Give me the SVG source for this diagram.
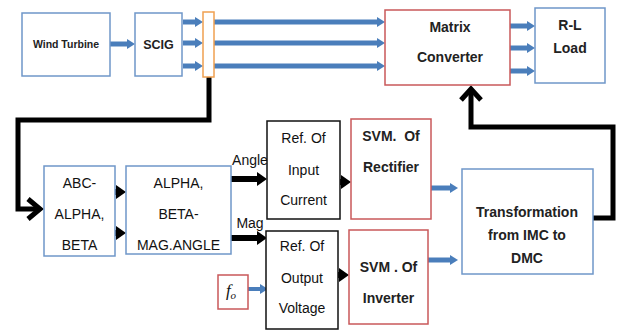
<svg xmlns="http://www.w3.org/2000/svg" width="619" height="332" viewBox="0 0 619 332">
<defs>
<style>
.bb{fill:#fff;stroke:#6f97c9;stroke-width:1.5}
.rb{fill:#fff;stroke:#c9585a;stroke-width:1.5}
.kb{fill:#fff;stroke:#111;stroke-width:1.5}
.ob{fill:#fff;stroke:#f0a050;stroke-width:1.5}
.tb{font-family:"Liberation Sans",Arial,sans-serif;font-weight:bold;fill:#222;text-anchor:middle;white-space:pre}
.tr{font-family:"Liberation Sans",Arial,sans-serif;font-size:14px;fill:#111;text-anchor:middle}
.blu{stroke:#4a7ebb;stroke-width:5;fill:none}
.blk{stroke:#000;stroke-width:6;fill:none}
.fb{stroke:#000;stroke-width:5;fill:none;stroke-linejoin:miter}
</style>
<marker id="ab" markerUnits="userSpaceOnUse" markerWidth="10" markerHeight="12" refX="1" refY="6" orient="auto"><path d="M0,1 L8,6 L0,11 z" fill="#4a7ebb"/></marker>
<marker id="ak" markerUnits="userSpaceOnUse" markerWidth="12" markerHeight="16" refX="1" refY="8" orient="auto"><path d="M0,1 L10,8 L0,15 z" fill="#000"/></marker>
</defs>
<rect width="619" height="332" fill="#fff"/>

<g id="connectors">
<line class="blu" x1="110" y1="44" x2="128" y2="44" marker-end="url(#ab)"/>
<line class="blu" x1="183" y1="22" x2="196" y2="22" marker-end="url(#ab)"/>
<line class="blu" x1="183" y1="43" x2="196" y2="43" marker-end="url(#ab)"/>
<line class="blu" x1="183" y1="66" x2="196" y2="66" marker-end="url(#ab)"/>
<line class="blu" x1="214" y1="22" x2="378" y2="22" marker-end="url(#ab)"/>
<line class="blu" x1="214" y1="43" x2="378" y2="43" marker-end="url(#ab)"/>
<line class="blu" x1="214" y1="66" x2="378" y2="66" marker-end="url(#ab)"/>
<line class="blu" x1="510" y1="26" x2="528" y2="26" marker-end="url(#ab)"/>
<line class="blu" x1="510" y1="48" x2="528" y2="48" marker-end="url(#ab)"/>
<line class="blu" x1="510" y1="71" x2="528" y2="71" marker-end="url(#ab)"/>
<polyline class="fb" points="209,77 209,120 18,120 18,209 40,209"/>
<polyline class="fb" points="28,199 40,209 28,219"/>
<line class="blk" x1="115" y1="192" x2="117" y2="192" marker-end="url(#ak)"/>
<line class="blk" x1="115" y1="233" x2="117" y2="233" marker-end="url(#ak)"/>
<line class="blk" x1="231" y1="179" x2="258" y2="179" marker-end="url(#ak)"/>
<line class="blk" x1="231" y1="238" x2="258" y2="238" marker-end="url(#ak)"/>
<line class="blk" x1="340" y1="182" x2="342" y2="182" marker-end="url(#ak)"/>
<line class="blk" x1="338" y1="275" x2="340" y2="275" marker-end="url(#ak)"/>
<line stroke="#4a7ebb" stroke-width="4" x1="248" y1="289" x2="261" y2="289" marker-end="url(#ab)"/>
<line class="blu" x1="431" y1="188" x2="451" y2="188" marker-end="url(#ab)"/>
<line class="blu" x1="428" y1="260" x2="451" y2="260" marker-end="url(#ab)"/>
<polyline class="fb" points="593,218 613,218 613,127 471,127 471,89"/>
<polyline class="fb" points="461,100 471,89 481,100"/>
</g>

<g id="wind-turbine"><rect class="bb" x="22" y="13" width="88" height="63"/><text class="tb" x="66" y="48" font-size="10.5">Wind Turbine</text></g>
<g id="scig"><rect class="bb" x="135" y="13" width="47" height="63"/><text class="tb" x="158.5" y="49" font-size="12.5">SCIG</text></g>
<g id="bus"><rect class="ob" x="203" y="12" width="11" height="65"/></g>
<g id="matrix-converter"><rect class="rb" x="385" y="10" width="125" height="75"/><text class="tb" x="450" y="32" font-size="14">Matrix</text><text class="tb" x="450" y="62" font-size="14">Converter</text></g>
<g id="rl-load"><rect class="bb" x="535" y="8" width="70" height="75"/><text class="tb" x="570" y="30" font-size="14">R-L</text><text class="tb" x="570" y="53" font-size="14">Load</text></g>
<g id="abc"><rect class="bb" x="44" y="166" width="71" height="90"/><text class="tr" x="79.5" y="188">ABC-</text><text class="tr" x="79.5" y="219">ALPHA,</text><text class="tr" x="79.5" y="250">BETA</text></g>
<g id="alpha-beta"><rect class="bb" x="126" y="166" width="105" height="88"/><text class="tr" x="178.5" y="188">ALPHA,</text><text class="tr" x="178.5" y="219">BETA-</text><text class="tr" x="178.5" y="250">MAG.ANGLE</text></g>
<text class="tr" x="250" y="165">Angle</text>
<text class="tr" x="250" y="228">Mag</text>
<g id="ref-input"><rect class="kb" x="267" y="121" width="73" height="98"/><text class="tr" x="303.5" y="143">Ref. Of</text><text class="tr" x="303.5" y="175">Input</text><text class="tr" x="303.5" y="205">Current</text></g>
<g id="ref-output"><rect class="kb" x="266" y="231" width="72" height="98"/><text class="tr" x="302" y="251">Ref. Of</text><text class="tr" x="302" y="283">Output</text><text class="tr" x="302" y="313">Voltage</text></g>
<g id="fo"><rect class="rb" x="218" y="275" width="30" height="34"/><text x="231" y="296" font-family="Liberation Serif,serif" font-style="italic" font-size="17" fill="#111" text-anchor="middle">f<tspan font-size="11" dy="3">o</tspan></text></g>
<g id="svm-rectifier"><rect class="rb" x="351" y="119" width="80" height="100"/><text class="tb" x="391" y="141" font-size="14">SVM.  Of</text><text class="tb" x="391" y="172" font-size="14">Rectifier</text></g>
<g id="svm-inverter"><rect class="rb" x="349" y="230" width="79" height="94"/><text class="tb" x="388.5" y="272" font-size="14">SVM . Of</text><text class="tb" x="388.5" y="303" font-size="14">Inverter</text></g>
<g id="transformation"><rect class="bb" x="462" y="169" width="131" height="105"/><text class="tb" x="527" y="217" font-size="14">Transformation</text><text class="tb" x="527" y="240" font-size="14">from IMC to</text><text class="tb" x="527" y="263" font-size="14">DMC</text></g>
</svg>
